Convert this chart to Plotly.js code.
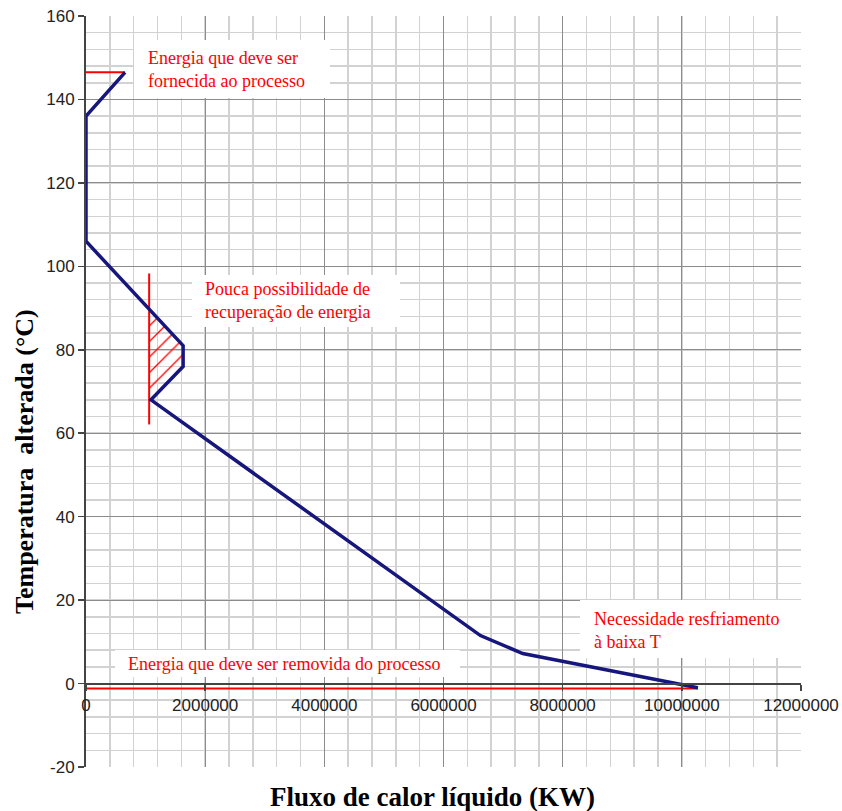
<!DOCTYPE html>
<html>
<head>
<meta charset="utf-8">
<script src="https://cdn.plot.ly/plotly-3.0.1.min.js"></script>
<style>html,body{margin:0;padding:0;background:#fff;}#chart{width:842px;height:811px;}</style>
</head>
<body>
<div id="chart"></div>
<script>
// Grand composite curve (heat flow in kW vs shifted temperature in °C)
var curveX = [655000, 0, 0, 1630000, 1630000, 1090000, 6620000, 7330000, 10270000];
var curveY = [146.5, 136, 106, 81, 76, 68, 11.5, 7.2, -1];

// Red reference lines
var hotUtilX = [0, 655000];
var hotUtilY = [146.5, 146.5];
var pocketLineX = [1060000, 1060000];
var pocketLineY = [98.3, 62.1];
var coldUtilX = [0, 10270000];
var coldUtilY = [-1.2, -1.2];

// Hatched pocket region
var hatchX = [1060000, 1630000, 1630000, 1090000, 1060000];
var hatchY = [89.7, 81, 76, 68, 68.5];

// Tick values / labels
var yTickVals = [-20, 0, 20, 40, 60, 80, 100, 120, 140, 160];
var yTickText = ['-20', '0', '20', '40', '60', '80', '100', '120', '140', '160'];
var xTickVals = [0, 2000000, 4000000, 6000000, 8000000, 10000000, 12000000];
var xTickText = ['0', '2000000', '4000000', '6000000', '8000000', '10000000', '12000000'];

// Labels
var labelTop = "Energia que deve ser<br>fornecida ao processo";
var labelPocket = "Pouca possibilidade de<br>recuperação de energia";
var labelCooling = "Necessidade resfriamento<br>à baixa T";
var labelBottom = "Energia que deve ser removida do processo";
var xTitle = "Fluxo de calor líquido (KW)";
var yTitle = "Temperatura  alterada (°C)";

// pixel -> paper helpers for decorations
var L = 86, R = 801, T = 16, B = 767;
function px(x){ return (x - L) / (R - L); }
function py(y){ return (B - y) / (B - T); }

var red = '#ff0000';
var serif = 'Liberation Serif, Times New Roman, serif';

var traces = [
  {x: hatchX, y: hatchY, type: 'scatter', mode: 'lines', fill: 'toself',
   line: {width: 0, color: 'rgba(0,0,0,0)'}, fillcolor: 'rgba(0,0,0,0)',
   fillpattern: {shape: '/', fgcolor: red, bgcolor: 'rgba(0,0,0,0)', size: 11, solidity: 0.12},
   hoverinfo: 'skip', showlegend: false},
  {x: hotUtilX, y: hotUtilY, type: 'scatter', mode: 'lines', line: {color: red, width: 2}, showlegend: false},
  {x: pocketLineX, y: pocketLineY, type: 'scatter', mode: 'lines', line: {color: red, width: 2}, showlegend: false},
  {x: coldUtilX, y: coldUtilY, type: 'scatter', mode: 'lines', line: {color: red, width: 2}, showlegend: false},
  {x: curveX, y: curveY, type: 'scatter', mode: 'lines', line: {color: '#16167c', width: 3.5}, showlegend: false}
];

function box(x0, y0, x1, y1){
  return {type: 'rect', xref: 'paper', yref: 'paper', x0: px(x0), x1: px(x1), y0: py(y1), y1: py(y0),
          fillcolor: '#ffffff', line: {width: 0}, layer: 'above'};
}
function label(text, x, y){
  return {text: text, xref: 'paper', yref: 'paper', x: px(x), y: py(y), xanchor: 'left', yanchor: 'middle',
          align: 'left', showarrow: false, font: {family: serif, size: 18, color: red}};
}

var tickFont = {family: 'Liberation Sans, Arial, sans-serif', size: 17, color: '#222'};

var layout = {
  width: 842, height: 811,
  margin: {l: L, r: 842 - R, t: T, b: 811 - B},
  paper_bgcolor: '#ffffff', plot_bgcolor: '#ffffff',
  showlegend: false,
  xaxis: {
    range: [0, 12000000], tickmode: 'array', tickvals: xTickVals, ticktext: xTickText,
    anchor: 'free', position: 20 / 180,
    showline: true, linecolor: '#444', linewidth: 2,
    ticks: 'outside', ticklen: 6, tickcolor: '#444', tickwidth: 1.5,
    showgrid: true, gridcolor: '#8c8c8c', gridwidth: 1,
    minor: {dtick: 400000, tick0: 0, showgrid: true, gridcolor: '#d2d2d2', gridwidth: 1.5},
    zeroline: false,
    tickfont: tickFont
  },
  yaxis: {
    range: [-20, 160], tickmode: 'array', tickvals: yTickVals, ticktext: yTickText,
    showline: true, linecolor: '#444', linewidth: 2,
    ticks: 'outside', ticklen: 6, tickcolor: '#444', tickwidth: 1.5,
    showgrid: true, gridcolor: '#8c8c8c', gridwidth: 1,
    minor: {dtick: 4, tick0: 0, showgrid: true, gridcolor: '#d2d2d2', gridwidth: 1.5},
    zeroline: false,
    tickfont: tickFont
  },
  shapes: [
    box(134, 40, 330, 98),
    box(192, 275, 400, 327),
    box(580, 600, 802, 658),
    box(115, 650, 460, 677)
  ],
  annotations: [
    label(labelTop, 146, 69),
    label(labelPocket, 203, 300),
    label(labelCooling, 592, 630),
    label(labelBottom, 126, 664),
    {text: '<b>' + xTitle + '</b>', xref: 'paper', yref: 'paper', x: px(432), y: py(797),
     xanchor: 'center', yanchor: 'middle', showarrow: false,
     font: {family: serif, size: 27, color: '#000'}},
    {text: '<b>' + yTitle + '</b>', xref: 'paper', yref: 'paper', x: px(24), y: py(462),
     xanchor: 'center', yanchor: 'middle', textangle: -90, showarrow: false,
     font: {family: serif, size: 26, color: '#000'}}
  ]
};

Plotly.newPlot('chart', traces, layout, {displayModeBar: false, staticPlot: true});
</script>
</body>
</html>
